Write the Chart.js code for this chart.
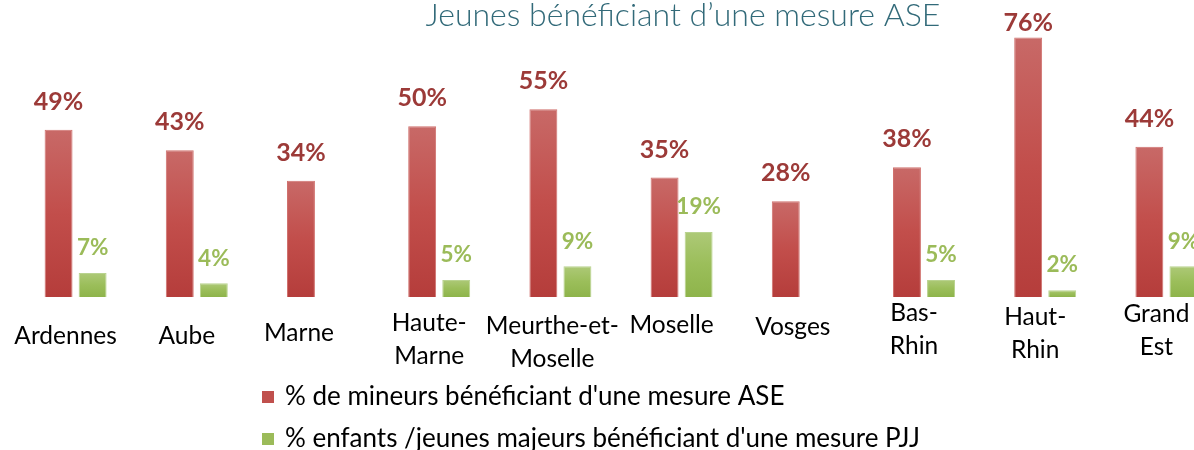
<!DOCTYPE html>
<html lang="fr">
<head>
<meta charset="utf-8">
<script src="https://cdn.jsdelivr.net/npm/chart.js@4.4.1/dist/chart.umd.min.js"></script>
<style>
  html, body { margin: 0; padding: 0; background: #fff; overflow: hidden; }
  #wrap { position: relative; width: 1366px; height: 450px; }
</style>
</head>
<body>
<div id="wrap"><canvas id="aseChart"></canvas></div>
<script>
// Data
const chartTitle = 'Jeunes bénéficiant d\u2019une mesure ASE';
const departements = [
    ['Ardennes'], ['Aube'], ['Marne'], ['Haute-', 'Marne'], ['Meurthe-et-', 'Moselle'],
    ['Moselle'], ['Vosges'], ['Bas-', 'Rhin'], ['Haut-', 'Rhin'], ['Grand', 'Est']
];
const mineursASE = [49, 43, 34, 50, 55, 35, 28, 38, 76, 44];
const jeunesPJJ = [7, 4, null, 5, 9, 19, null, 5, 2, 9];
const seriesNames = [
    '% de mineurs bénéficiant d\'une mesure ASE',
    '% enfants /jeunes majeurs bénéficiant d\'une mesure PJJ'
];

// Excel drew the category labels at slightly different places (px from the category centre / baseline)
const labelShift = [-10, -10, -19, -10, -8, -10, -10, -10, -10, -10];
const labelDrop = [39, 39, 36, 26, 29, 28, 30, 16, 20, 17];

const FONT = 'Lato, "Open Sans", sans-serif';

// vertical gradient for each bar, light at the top
function barGradient(top, middle, bottom) {
    return function (c) {
        const chart = c.chart;
        if (!chart.chartArea || c.type !== 'data' || c.raw == null) return middle;
        const y = chart.scales.y;
        const g = chart.ctx.createLinearGradient(0, y.getPixelForValue(c.raw), 0, y.getPixelForValue(0));
        g.addColorStop(0, top);
        g.addColorStop(0.5, middle);
        g.addColorStop(1, bottom);
        return g;
    };
}

// title centred on the whole canvas
const titlePlugin = {
    id: 'titlePlugin',
    afterDraw(chart) {
        const ctx = chart.ctx;
        ctx.save();
        ctx.font = '300 32px ' + FONT;
        ctx.fillStyle = '#326a79';
        ctx.textAlign = 'center';
        ctx.textBaseline = 'middle';
        ctx.fillText(chartTitle, chart.width / 2, 16);
        ctx.restore();
    }
};

// values above the bars
const valueLabels = {
    id: 'valueLabels',
    afterDatasetsDraw(chart) {
        const ctx = chart.ctx;
        ctx.save();
        ctx.textAlign = 'center';
        ctx.textBaseline = 'middle';
        chart.data.datasets.forEach((ds, i) => {
            const meta = chart.getDatasetMeta(i);
            meta.data.forEach((bar, j) => {
                const v = ds.data[j];
                if (v == null) return;
                if (i === 0) {
                    ctx.font = 'bold 25px ' + FONT;
                    ctx.fillStyle = '#9c3a38';
                    ctx.fillText(v + '%', bar.x, Math.max(bar.y - 28, chart.chartArea.top - 11));
                } else {
                    ctx.font = 'bold 22.5px ' + FONT;
                    ctx.fillStyle = '#9bbb59';
                    ctx.fillText(v + '%', bar.x, bar.y - 25);
                }
            });
        });
        ctx.restore();
    }
};

// category names under the bars
const categoryLabels = {
    id: 'categoryLabels',
    afterDraw(chart) {
        const ctx = chart.ctx;
        const x = chart.scales.x;
        ctx.save();
        ctx.font = '24.5px ' + FONT;
        ctx.fillStyle = '#000';
        ctx.textAlign = 'center';
        ctx.textBaseline = 'middle';
        departements.forEach((lines, i) => {
            const cx = x.getPixelForValue(i) + labelShift[i];
            lines.forEach((txt, k) => {
                ctx.fillText(txt, cx, chart.chartArea.bottom + labelDrop[i] + k * 33);
            });
        });
        ctx.restore();
    }
};

// legend stacked in one column
const columnLegend = {
    id: 'columnLegend',
    afterDraw(chart) {
        const ctx = chart.ctx;
        const swatch = ['#c0504d', '#9bbb59'];
        ctx.save();
        ctx.font = '26px ' + FONT;
        ctx.textBaseline = 'middle';
        chart.data.datasets.forEach((ds, i) => {
            const y = 397 + i * 42;
            ctx.fillStyle = swatch[i];
            ctx.fillRect(262, y - 6, 12, 12);
            ctx.fillStyle = '#000';
            ctx.fillText(ds.label, 285, y);
        });
        ctx.restore();
    }
};

const ctx = document.getElementById('aseChart').getContext('2d');
const aseChart = new Chart(ctx, {
    type: 'bar',
    data: {
        labels: departements.map(l => l.join(' ')),
        datasets: [{
            label: seriesNames[0],
            data: mineursASE,
            backgroundColor: barGradient('#c86967', '#c24e4b', '#b53d3b'),
            borderColor: '#d0706d',
            borderWidth: 1
        }, {
            label: seriesNames[1],
            data: jeunesPJJ,
            backgroundColor: barGradient('#adc977', '#9bbe5a', '#8eb44b'),
            borderColor: '#b9d38f',
            borderWidth: 1
        }]
    },
    options: {
        responsive: true,
        maintainAspectRatio: false,
        animation: false,
        categoryPercentage: 0.562,
        barPercentage: 0.82,
        layout: {
            padding: { top: 34, left: 15, right: 139, bottom: 153 }
        },
        plugins: {
            legend: { display: false },
            title: { display: false },
            tooltip: { enabled: false }
        },
        scales: {
            x: { display: false },
            y: { display: false, min: 0, max: 77 }
        }
    },
    plugins: [titlePlugin, valueLabels, categoryLabels, columnLegend]
});
</script>
</body>
</html>
